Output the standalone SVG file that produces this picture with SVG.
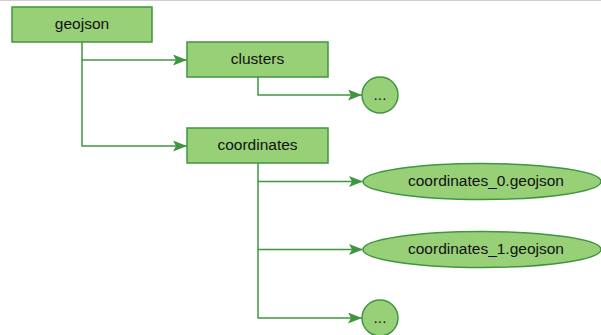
<svg xmlns="http://www.w3.org/2000/svg" width="601" height="335" viewBox="0 0 601 335">
<defs>
<marker id="arr" markerWidth="14" markerHeight="11" refX="14" refY="5.5" orient="auto" markerUnits="userSpaceOnUse">
<path d="M0,0 L14,5.5 L0,11 L3,5.5 Z" fill="#409640"/>
</marker>
<style>
.n{fill:#97d077;stroke:#409640;stroke-width:1.5}
.t{font-family:"Liberation Sans",Arial,sans-serif;font-size:15.5px;fill:#111;text-anchor:middle;dominant-baseline:central}
.c{fill:none;stroke:#409640;stroke-width:1.5}
</style>
</defs>
<rect width="601" height="335" fill="#fff"/>
<line x1="0" y1="0.5" x2="601" y2="0.5" stroke="#cfcfcf" stroke-width="1"/>
<g id="connectors">
<path class="c" d="M82,42 V146 H187" marker-end="url(#arr)"/>
<path class="c" d="M82,60 H187" marker-end="url(#arr)"/>
<path class="c" d="M258,77 V95 H362" marker-end="url(#arr)"/>
<path class="c" d="M258,163 V318 H362" marker-end="url(#arr)"/>
<path class="c" d="M258,181.5 H363" marker-end="url(#arr)"/>
<path class="c" d="M258,249.5 H363" marker-end="url(#arr)"/>
</g>
<g id="geojson"><rect class="n" x="12" y="7" width="140" height="35"/><text class="t" x="82" y="23.5">geojson</text></g>
<g id="clusters"><rect class="n" x="187" y="42" width="141" height="35"/><text class="t" x="257.5" y="58.5">clusters</text></g>
<g id="coordinates"><rect class="n" x="187" y="128" width="141" height="35"/><text class="t" x="257.5" y="144">coordinates</text></g>
<g id="clusters_more"><circle class="n" cx="380" cy="95" r="18"/><text class="t" x="380" y="94">...</text></g>
<g id="coordinates_0"><ellipse class="n" cx="482" cy="181.5" rx="119" ry="18"/><text class="t" x="486" y="180.5">coordinates_0.geojson</text></g>
<g id="coordinates_1"><ellipse class="n" cx="482" cy="249.5" rx="119" ry="18"/><text class="t" x="486" y="248.5">coordinates_1.geojson</text></g>
<g id="coordinates_more"><circle class="n" cx="380" cy="318" r="18"/><text class="t" x="380" y="317">...</text></g>
</svg>
